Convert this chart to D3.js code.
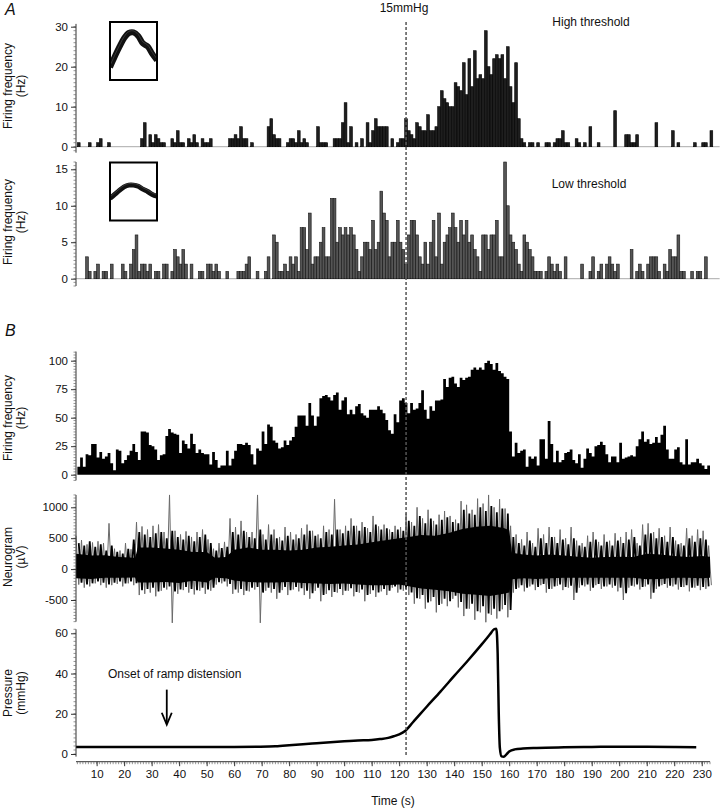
<!DOCTYPE html>
<html>
<head>
<script src="https://d3js.org/d3.v7.min.js"></script>
<style>
  body { margin: 0; background: #fff; }
  svg text { font-family: "Liberation Sans", Arial, sans-serif; fill: #111; }
</style>
</head>
<body>
<svg id="chart" width="720" height="808"></svg>
<script>
// ---- data (1 s bins, first bin starts at the given second) ----
const highStart = 3;
const highFreq = [
  1,0,0,0,1,0,0,1,2,0,  0,1,0,0,0,0,0,0,0,0,  0,0,0,2,6,0,3,1,3,2,
  1,1,0,0,2,1,4,1,1,0,  2,1,3,1,0,2,1,1,2,0,  0,0,0,0,0,2,2,3,2,5,
  2,2,0,1,0,0,0,0,0,5,  7,3,2,2,0,0,1,2,2,1,  4,1,2,1,0,0,0,5,1,1,
  1,0,0,2,2,2,6,11,1,5, 0,1,0,2,0,6,1,4,7,5,  5,5,5,0,2,0,1,2,2,7,
  4,3,2,6,5,4,4,8,4,4,  5,10,14,12,11,10,10,16,15,14,  21,13,22,15,24,17,18,17,29,20,
  18,22,23,22,23,17,25,15,11,21,  7,2,1,0,1,1,0,1,0,0,  1,1,0,1,2,2,4,1,1,0,
  0,2,1,0,1,0,5,0,0,1,  0,0,0,0,0,9,0,0,0,3,  3,1,1,3,0,0,0,0,0,0,
  6,0,0,0,0,0,4,0,1,0,  0,0,0,0,1,0,0,1,1,0,  4,0
];
const lowStart = 3;
const lowFreq = [
  0,0,0,3,1,0,1,2,0,1,  1,0,2,0,0,0,2,1,0,2,  4,6,1,2,2,1,2,0,1,1,
  0,2,2,0,1,4,3,2,4,2,  0,2,0,0,1,1,0,2,2,1,  2,1,0,0,1,0,0,0,1,1,
  1,2,3,0,0,1,0,0,1,3,  0,6,5,1,1,2,1,3,2,3,  1,7,7,4,9,2,3,3,5,7,
  3,3,11,11,5,7,6,7,6,7,  6,4,1,3,5,5,4,8,4,5,  12,9,8,3,5,5,8,5,4,2,
  6,8,8,6,3,2,5,2,5,8,  3,9,2,5,6,7,9,7,5,8,  6,8,5,6,4,3,1,6,6,4,
  6,6,8,3,3,16,10,6,5,4,  2,1,6,5,4,3,1,1,1,0,  1,3,2,1,2,1,0,3,0,0,
  0,0,0,2,0,0,1,3,0,1,  2,0,2,3,2,1,2,0,0,0,  0,4,0,1,2,1,0,2,3,3,
  3,1,0,2,1,4,3,3,6,1,  1,0,0,1,0,1,1,0,3,0,  0,0
];
const bStart = 3;
const bFreq = [
  7,15,7,18,17,27,27,15,20,14,  16,19,10,4,22,21,10,13,17,21,  27,20,13,38,38,37,26,25,22,13,
  17,18,34,40,37,36,35,19,30,27,  23,36,27,19,22,19,18,18,9,20,  13,6,8,8,21,8,14,21,27,27,
  26,28,26,18,9,23,21,38,27,44,  42,30,28,23,24,30,26,30,33,42,  52,52,52,43,63,52,43,51,67,69,
  70,68,65,70,72,57,65,68,53,57,  53,60,62,54,52,50,57,57,57,60,  57,54,48,39,36,53,46,65,67,63,
  54,63,57,58,63,74,57,49,60,56,  65,65,66,84,77,85,86,80,77,85,  83,85,86,92,94,92,94,92,98,100,
  97,92,98,91,89,86,84,38,16,28,  19,21,22,7,16,14,16,8,31,31,  14,47,27,11,21,11,13,19,20,22,
  13,10,18,6,14,23,19,16,25,26,  29,26,18,11,16,16,11,28,14,15,  16,17,16,25,31,38,29,31,27,28,
  33,28,35,43,22,14,14,22,24,11,  9,31,9,11,11,14,10,8,5,8
];

// neurogram: outer (grey) peaks every 2 s, t = 3, 5, ... 233 (µV)
const neuroHi = [
  540,470,400,430,450,420,740,330,300,420,  320,760,690,640,700,720,600,1200,620,560,
  610,520,600,640,480,330,420,440,820,680,  780,600,600,1200,560,720,640,520,680,600,
  560,660,720,620,560,700,640,1130,640,700,  820,700,760,660,860,690,720,640,700,680,
  900,760,1000,820,960,780,880,940,860,800,  1100,1040,960,1140,1060,1200,1000,1130,980,700,
  560,480,600,420,660,560,680,520,640,500,  680,460,420,540,600,440,560,460,580,520,
  600,640,420,720,740,600,660,540,680,460,  420,660,540,640,620,380
];
const neuroLo = [
  -250,-300,-280,-230,-260,-300,-260,-240,-280,-230,  -260,-420,-400,-380,-440,-350,-330,-870,-400,-340,
  -380,-410,-350,-400,-350,-250,-230,-280,-400,-380,  -420,-360,-330,-870,-350,-380,-480,-340,-420,-330,
  -360,-420,-480,-350,-520,-400,-450,-380,-420,-350,  -440,-380,-520,-400,-450,-360,-420,-300,-380,-350,
  -420,-560,-480,-640,-520,-700,-560,-600,-480,-620,  -760,-640,-820,-700,-860,-740,-800,-650,-780,-380,
  -300,-360,-280,-340,-260,-380,-320,-270,-340,-300,  -500,-300,-280,-350,-260,-320,-280,-300,-360,-500,
  -300,-280,-330,-280,-480,-320,-260,-300,-280,-330,  -290,-360,-300,-340,-320,-260
];
// neurogram: inner (black) peaks every 2 s, t = 4, 6, ... 232 (µV)
const midHi = [
  420,380,450,360,400,300,380,280,250,330,  480,600,560,520,580,600,500,620,520,480,
  540,450,520,560,420,300,340,360,600,560,  620,520,500,640,480,560,500,460,540,480,
  500,560,620,540,500,600,560,640,580,620,  700,620,680,600,720,640,660,600,640,620,
  780,700,860,740,820,720,800,840,760,740,  960,900,880,1000,940,1020,920,980,900,520,
  420,380,460,360,500,420,520,420,480,400,  500,380,360,440,480,380,440,380,460,420,
  480,520,380,560,580,500,520,440,520,400,  380,500,440,500,480
];
const midLo = [
  -220,-250,-230,-200,-220,-250,-220,-200,-230,-200,  -230,-340,-320,-300,-360,-300,-280,-360,-330,-290,
  -320,-340,-300,-330,-300,-210,-200,-240,-330,-320,  -350,-300,-290,-380,-300,-320,-380,-290,-340,-290,
  -310,-350,-390,-300,-420,-340,-370,-320,-350,-310,  -370,-330,-420,-340,-380,-320,-350,-280,-330,-320,
  -380,-470,-420,-540,-450,-580,-480,-520,-430,-530,  -640,-560,-680,-600,-720,-640,-680,-580,-660,-320,
  -260,-300,-250,-290,-240,-320,-280,-250,-290,-270,  -380,-260,-250,-300,-240,-280,-250,-270,-300,-390,
  -270,-250,-290,-250,-380,-280,-240,-270,-250,-290,  -260,-300,-270,-290,-280
];
// dense black core of the neurogram
const coreT  = [2.5,8,13,18,24,25,30,35,40,45,50,53,57,60,65,70,75,80,85,90,95,100,105,110,115,120,123,128,133,138,143,148,153,158,160,161,165,170,175,180,185,190,195,200,205,210,215,220,225,230,233];
const coreHi = [250,220,225,195,185,350,350,335,315,275,275,185,195,315,350,315,315,300,315,350,360,380,400,435,465,500,515,550,540,585,650,685,700,665,630,265,235,220,235,220,200,185,195,200,195,250,235,210,195,210,200];
const coreLo = [-150,-160,-140,-140,-135,-215,-215,-210,-225,-190,-215,-140,-150,-185,-210,-215,-215,-210,-225,-235,-240,-235,-250,-260,-260,-250,-275,-315,-335,-360,-400,-415,-435,-400,-380,-165,-150,-160,-150,-140,-140,-140,-140,-140,-140,-165,-160,-140,-140,-150,-140];

// intraluminal pressure (mmHg)
const pressT = [2.5,20,40,60,68,75,80,85,90,95,100,105,110,113,116,118,120,122,125,130,135,140,145,150,153,154.5,155.3,155.8,156.2,156.6,157.2,158,159,160,162,165,170,180,190,200,210,220,228];
const pressV = [3.5,3.5,3.5,3.5,3.6,3.8,4.3,4.9,5.4,5.9,6.3,6.7,7.0,7.4,8.0,8.8,9.8,11.3,15.8,23.5,31,38.8,46.5,54.5,59.5,62,62.3,50,20,3,-1.2,-1.4,-0.2,1.3,2.3,2.7,3.0,3.3,3.5,3.6,3.6,3.5,3.4];

// spike waveforms in the insets (fraction of box height from top)
const waveHigh = [0.78,0.6,0.43,0.28,0.19,0.18,0.24,0.37,0.42,0.55,0.66];
const waveLow  = [0.62,0.55,0.48,0.42,0.39,0.39,0.41,0.46,0.50,0.55,0.58];

const xTicks = d3.range(10, 231, 10);
const thresholdTime = 122.5;

// ---- layout ----
const svg = d3.select("#chart");
const font = '"Liberation Sans", Arial, sans-serif';
const x = d3.scaleLinear().domain([2.5, 233]).range([76, 710]);

const yHigh = d3.scaleLinear().domain([0, 30]).range([146.7, 26.7]);
const yLow  = d3.scaleLinear().domain([0, 15]).range([278.7, 169.3]);
const yB    = d3.scaleLinear().domain([0, 100]).range([474.7, 360.7]);
const yN    = d3.scaleLinear().domain([-500, 1000]).range([600, 507.3]);
const yP    = d3.scaleLinear().domain([0, 60]).range([754, 633.3]);

function yAxis(scale, lo, hi, majors, minorStep) {
  const g = svg.append("g");
  g.append("line").attr("x1", 76).attr("x2", 76)
    .attr("y1", scale(lo)).attr("y2", scale(hi))
    .attr("stroke", "#333").attr("stroke-width", 1);
  g.selectAll("line.minor")
    .data(d3.range(Math.ceil(lo / minorStep) * minorStep, hi + 1e-9, minorStep))
    .join("line").attr("class", "minor")
    .attr("x1", 73.5).attr("x2", 76)
    .attr("y1", d => scale(d)).attr("y2", d => scale(d))
    .attr("stroke", "#666").attr("stroke-width", 0.7);
  const a = g.append("g").attr("transform", "translate(76,0)")
    .call(d3.axisLeft(scale).tickValues(majors).tickSize(5).tickPadding(3).tickFormat(d => String(d)));
  a.select(".domain").remove();
  a.attr("font-family", font).attr("font-size", 11.5);
  a.selectAll("line").attr("stroke", "#333");
  a.selectAll("text").attr("fill", "#111");
}

function yTitle(lines, cy) {
  lines.forEach((s, i) => {
    svg.append("text")
      .attr("transform", `translate(${12 + i * 13},${cy}) rotate(-90)`)
      .attr("text-anchor", "middle")
      .style("font-size", "12px")
      .text(s);
  });
}

function histogram(values, start, scale, fill, stroke) {
  const rows = values.map((v, i) => ({ t: start + i, v })).filter(d => d.v > 0);
  svg.append("g").selectAll("rect").data(rows).join("rect")
    .attr("x", d => x(d.t)).attr("width", d => x(d.t + 1) - x(d.t))
    .attr("y", d => scale(d.v)).attr("height", d => scale(0) - scale(d.v))
    .attr("fill", fill).attr("stroke", stroke).attr("stroke-width", 0.6);
}

function inset(wave, top, w) {
  const left = 110, right = 157, h = 58;
  const wx = d3.scaleLinear().domain([0, wave.length - 1]).range([left, right]);
  const wy = d3.scaleLinear().domain([0, 1]).range([top, top + h]);
  const id = "clip" + Math.round(top);
  svg.append("clipPath").attr("id", id).append("rect")
    .attr("x", left).attr("y", top).attr("width", right - left).attr("height", h);
  const line = d3.line().x((d, i) => wx(i)).y(d => wy(d)).curve(d3.curveCatmullRom);
  svg.append("path").datum(wave).attr("clip-path", `url(#${id})`)
    .attr("d", line).attr("fill", "none").attr("stroke", "#111").attr("stroke-width", w);
  svg.append("path").datum(wave).attr("clip-path", `url(#${id})`)
    .attr("d", line).attr("fill", "none").attr("stroke", "#555").attr("stroke-width", 0.6)
    .attr("transform", "translate(0,-1.5)");
  svg.append("rect").attr("x", left).attr("y", top).attr("width", right - left).attr("height", h)
    .attr("fill", "none").attr("stroke", "#000").attr("stroke-width", 2);
}

// ---- panel A, high threshold ----
svg.append("line").attr("x1", x(2.5)).attr("x2", x(236.5))
  .attr("y1", yHigh(0)).attr("y2", yHigh(0)).attr("stroke", "#aaa");
histogram(highFreq, highStart, yHigh, "#1e1e1e", "#000");
yAxis(yHigh, -1.5, 30.7, [0, 10, 20, 30], 1);
yTitle(["Firing frequency", "(Hz)"], 86);
inset(waveHigh, 22, 6);
svg.append("text").attr("x", 591).attr("y", 26).attr("text-anchor", "middle")
  .style("font-size", "12px").text("High threshold");

// ---- panel A, low threshold ----
svg.append("line").attr("x1", x(2.5)).attr("x2", x(236.5))
  .attr("y1", yLow(0)).attr("y2", yLow(0)).attr("stroke", "#aaa");
histogram(lowFreq, lowStart, yLow, "#555", "#151515");
yAxis(yLow, -1, 16, [0, 5, 10, 15], 0.5);
yTitle(["Firing frequency", "(Hz)"], 222);
inset(waveLow, 162.5, 5);
svg.append("text").attr("x", 589).attr("y", 187.5).attr("text-anchor", "middle")
  .style("font-size", "12px").text("Low threshold");

// ---- panel B, firing frequency ----
const bRows = bFreq.map((v, i) => ({ t: bStart + i, v }));
bRows.push({ t: bStart + bFreq.length, v: bFreq[bFreq.length - 1] });
svg.append("path").datum(bRows)
  .attr("d", d3.area().x(d => x(d.t)).y0(yB(0)).y1(d => yB(d.v)).curve(d3.curveStepAfter))
  .attr("fill", "#000");
yAxis(yB, -5, 108, [0, 25, 50, 75, 100], 2.5);
yTitle(["Firing frequency", "(Hz)"], 418);

// ---- neurogram ----
const neuroLine = d3.line().x(d => x(d[0])).y(d => yN(d[1]));
const outer = [];
d3.range(3, 234, 2).forEach((t, i) => { outer.push([t - 0.5, neuroHi[i]]); outer.push([t + 0.5, neuroLo[i]]); });
svg.append("path").datum(outer).attr("d", neuroLine)
  .attr("fill", "none").attr("stroke", "#6a6a6a").attr("stroke-width", 1);
const coreRows = coreT.map((t, i) => ({ t, hi: coreHi[i], lo: coreLo[i] }));
svg.append("path").datum(coreRows)
  .attr("d", d3.area().x(d => x(d.t)).y0(d => yN(d.lo)).y1(d => yN(d.hi)))
  .attr("fill", "#000");
const inner = [];
d3.range(4, 233, 2).forEach((t, i) => { inner.push([t - 0.5, midHi[i]]); inner.push([t + 0.5, midLo[i]]); });
svg.append("path").datum(inner).attr("d", neuroLine)
  .attr("fill", "none").attr("stroke", "#000").attr("stroke-width", 1.8);
yAxis(yN, -850, 1200, [-500, 0, 500, 1000], 50);
yTitle(["Neurogram", "(\u00b5V)"], 557);

// ---- pressure ----
const pRows = pressT.map((t, i) => ({ t, v: pressV[i] }));
svg.append("path").datum(pRows)
  .attr("d", d3.line().x(d => x(d.t)).y(d => yP(d.v)).curve(d3.curveMonotoneX))
  .attr("fill", "none").attr("stroke", "#000").attr("stroke-width", 2.5);
yAxis(yP, -1.3, 62, [0, 20, 40, 60], 2);
yTitle(["Pressure", "(mmHg)"], 693);

svg.append("text").attr("x", 108).attr("y", 677.5)
  .style("font-size", "12px").text("Onset of ramp distension");
const ax0 = x(35.5);
svg.append("line").attr("x1", ax0).attr("x2", ax0).attr("y1", yP(32)).attr("y2", yP(15))
  .attr("stroke", "#000").attr("stroke-width", 1.8);
svg.append("path")
  .attr("d", `M${ax0 - 5},${yP(20.5)} L${ax0},${yP(14.6)} L${ax0 + 5},${yP(20.5)}`)
  .attr("fill", "none").attr("stroke", "#000").attr("stroke-width", 1.8);

// ---- time axis ----
const xAxisY = 761.7;
const xg = svg.append("g");
xg.append("line").attr("x1", 76).attr("x2", 710).attr("y1", xAxisY).attr("y2", xAxisY)
  .attr("stroke", "#333");
xg.selectAll("line.minor").data(d3.range(3, 234, 1)).join("line").attr("class", "minor")
  .attr("x1", d => x(d)).attr("x2", d => x(d)).attr("y1", xAxisY).attr("y2", xAxisY + 2.5)
  .attr("stroke", "#666").attr("stroke-width", 0.7);
const xa = xg.append("g").attr("transform", `translate(0,${xAxisY})`)
  .call(d3.axisBottom(x).tickValues(xTicks).tickSize(4.5).tickPadding(4));
xa.select(".domain").remove();
xa.attr("font-family", font).attr("font-size", 11.5);
xa.selectAll("line").attr("stroke", "#333");
xa.selectAll("text").attr("fill", "#111");
svg.append("text").attr("x", 393).attr("y", 805).attr("text-anchor", "middle")
  .style("font-size", "12px").text("Time (s)");

// ---- threshold marker ----
svg.append("line").attr("x1", x(thresholdTime)).attr("x2", x(thresholdTime))
  .attr("y1", 22).attr("y2", 757)
  .attr("stroke", "#555").attr("stroke-width", 1.5).attr("stroke-dasharray", "3,2");
svg.append("text").attr("x", 404).attr("y", 12).attr("text-anchor", "middle")
  .style("font-size", "12px").text("15mmHg");

// panel letters
svg.append("text").attr("x", 5).attr("y", 15).style("font-size", "16px").style("font-style", "italic").text("A");
svg.append("text").attr("x", 5).attr("y", 336).style("font-size", "16px").style("font-style", "italic").text("B");
</script>
</body>
</html>
